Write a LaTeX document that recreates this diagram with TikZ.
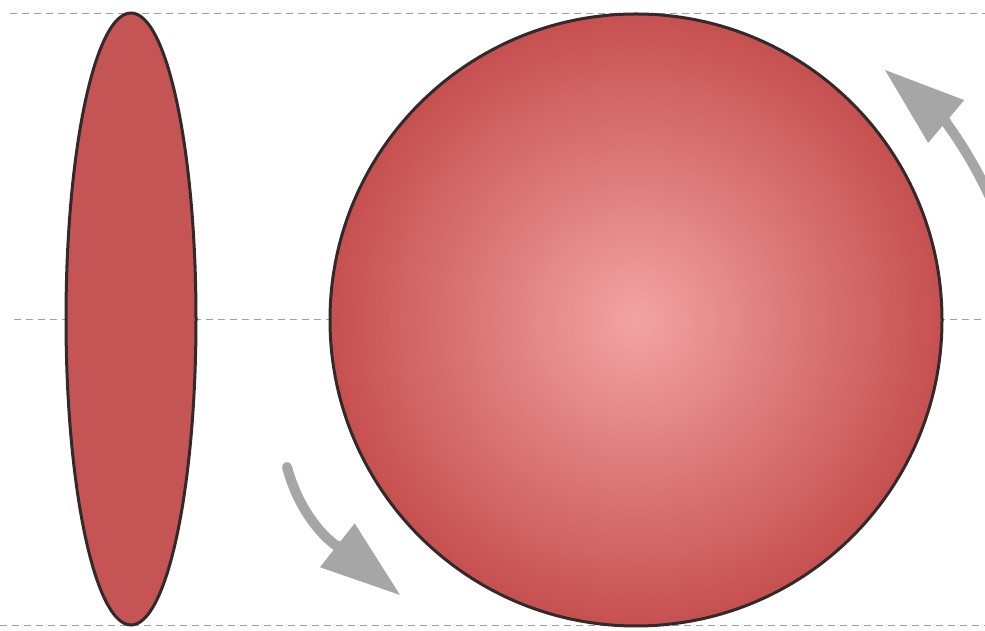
\documentclass[tikz,border=0pt]{standalone}
\usetikzlibrary{arrows.meta}
\definecolor{lensred}{RGB}{197,84,84}
\definecolor{ballin}{RGB}{243,163,163}
\definecolor{ballout}{RGB}{198,80,80}
\definecolor{rim}{RGB}{50,42,42}
\definecolor{arrowgray}{RGB}{166,166,166}
\definecolor{guidegray}{RGB}{160,160,160}
\begin{document}
\begin{tikzpicture}[x=0.5pt,y=0.5pt,
  guide/.style={guidegray, line width=0.5pt, dash pattern=on 3.5pt off 2.5pt},
  body/.style={draw=rim, line width=1.5pt},
  turn/.style={arrowgray, line width=5pt, line cap=round,
    -{Triangle[length=40pt,width=28pt,line width=0pt]}}]
\useasboundingbox (0,0) rectangle (985,631);
\coordinate (O) at (636,311);
% guide lines
\draw[guide] (10,617) -- (985,617);
\draw[guide] (14,311) -- (985,311);
\draw[guide] (0,5) -- (985,5);
% thin lens and ball
\draw[body, fill=lensred] (131,312) ellipse [x radius=65, y radius=306];
\shade[inner color=ballin, outer color=ballout] (O) circle [radius=306];
\draw[body] (O) circle [radius=306];
% rotation arrows
\draw[turn] (287,164) to[out=-75,in=141.6] (400,36);
\draw[turn] (997,418) to[out=113,in=-40.1] (885,561);
\end{tikzpicture}
\end{document}
